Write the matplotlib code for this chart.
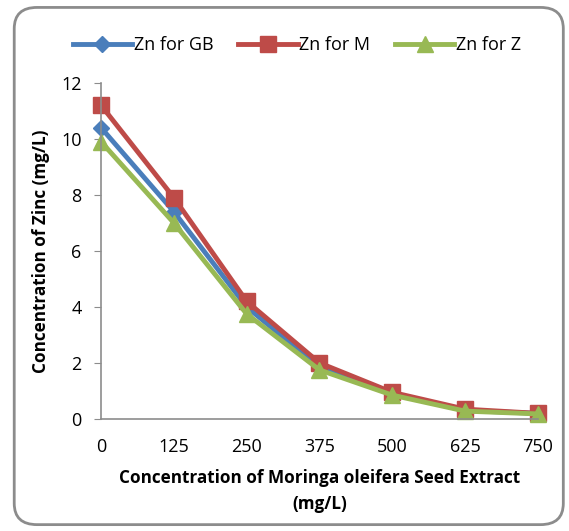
import matplotlib
matplotlib.use("Agg")
import matplotlib.pyplot as plt
from matplotlib.patches import FancyBboxPatch

# ── Data ───────────────────────────────────────────────────────────────────
doses = [0, 125, 250, 375, 500, 625, 750]          # mg/L
zn_gb = [10.4, 7.4, 4.0, 1.85, 0.9, 0.3, 0.2]
zn_m = [11.2, 7.9, 4.2, 2.0, 0.95, 0.35, 0.2]
zn_z = [9.9, 7.0, 3.75, 1.75, 0.85, 0.28, 0.18]
y_ticks = [0, 2, 4, 6, 8, 10, 12]

plt.rcParams["font.family"] = ["Open Sans", "DejaVu Sans"]

fig = plt.figure(figsize=(5.69, 5.31), dpi=100)

# rounded chart border
border = FancyBboxPatch((0.025, 0.012), 0.965, 0.974,
                        boxstyle="round,pad=0,rounding_size=0.04",
                        transform=fig.transFigure, fill=False,
                        edgecolor="#8c8c8c", lw=2.0)
fig.patches.append(border)

ax = fig.add_axes([0.1775, 0.211, 0.768, 0.633])

ax.plot(doses, zn_gb, "-D", color="#4a7ebb", lw=3.5, ms=8, label="Zn for GB")
ax.plot(doses, zn_m, "-s", color="#be4b48", lw=3.5, ms=12, label="Zn for M")
ax.plot(doses, zn_z, "-^", color="#98b954", lw=3.5, ms=12, label="Zn for Z")

ax.set_xlim(0, 750)
ax.set_ylim(0, 12)
ax.set_xticks(doses)
ax.set_yticks(y_ticks)
ax.tick_params(axis="x", length=0, pad=14, labelsize=13)
ax.tick_params(axis="y", length=5, color="#8c8c8c", labelsize=13, pad=9)

for s in ["top", "right"]:
    ax.spines[s].set_visible(False)
for s in ["left", "bottom"]:
    ax.spines[s].set_color("#8c8c8c")
    ax.spines[s].set_linewidth(1.2)
for ln in ax.lines:
    ln.set_clip_on(False)

ax.set_xlabel("Concentration of Moringa oleifera Seed Extract\n(mg/L)",
              fontweight="bold", fontsize=12.3, labelpad=9, linespacing=1.55)
ax.set_ylabel("Concentration of Zinc (mg/L)", fontweight="bold", fontsize=12.3,
              labelpad=8)

fig.legend(loc="center", bbox_to_anchor=(0.522, 0.915), ncol=3, frameon=False,
           fontsize=13, handlelength=3.3, handletextpad=0.1, columnspacing=1.35)

fig.savefig("out.png", dpi=100)
